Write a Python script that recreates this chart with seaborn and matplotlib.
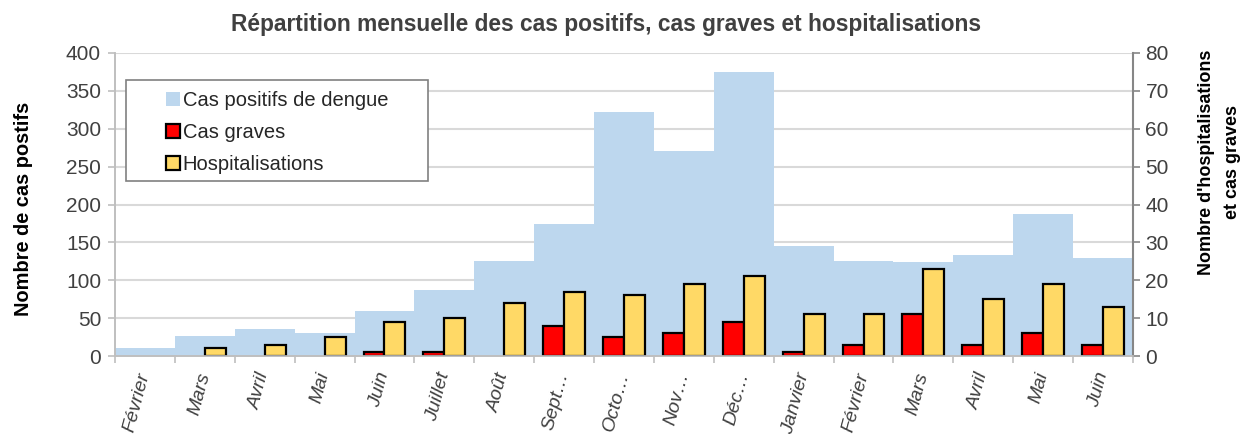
import matplotlib
matplotlib.use("Agg")
import matplotlib.pyplot as plt
from matplotlib.patches import Patch, Rectangle
import seaborn as sns
import pandas as pd

# Data
mois_id = ["2019-02", "2019-03", "2019-04", "2019-05", "2019-06", "2019-07", "2019-08",
           "2019-09", "2019-10", "2019-11", "2019-12", "2020-01", "2020-02", "2020-03",
           "2020-04", "2020-05", "2020-06"]
mois_labels = ["Février", "Mars", "Avril", "Mai", "Juin", "Juillet", "Août", "Sept…",
               "Octo…", "Nov…", "Déc…", "Janvier", "Février", "Mars", "Avril", "Mai", "Juin"]
cas_positifs = [10, 26, 36, 30, 59, 87, 126, 174, 322, 270, 375, 145, 126, 124, 133, 188, 130]
cas_graves = [0, 0, 0, 0, 1, 1, 0, 8, 5, 6, 9, 1, 3, 11, 3, 6, 3]
hospitalisations = [0, 2, 3, 5, 9, 10, 14, 17, 16, 19, 21, 11, 11, 23, 15, 19, 13]

BLUE = "#BDD7EE"
RED = "#FF0000"
YELLOW = "#FFD966"
TXT = "#404040"

df = pd.DataFrame({"mois": mois_id, "positifs": cas_positifs})
long = pd.DataFrame({
    "mois": mois_id * 2,
    "serie": ["Cas graves"] * len(mois_id) + ["Hospitalisations"] * len(mois_id),
    "valeur": cas_graves + hospitalisations,
})

sns.set_theme(style="white")
plt.rcParams["font.family"] = ["Liberation Sans", "DejaVu Sans"]

fig = plt.figure(figsize=(12.46, 4.34), dpi=100)
ax = fig.add_axes([0.0923, 0.1797, 0.817, 0.6982])
ax2 = ax.twinx()

sns.barplot(data=df, x="mois", y="positifs", order=mois_id, color=BLUE, saturation=1,
            width=1.0, linewidth=0, ax=ax)
sns.barplot(data=long, x="mois", y="valeur", hue="serie", order=mois_id,
            hue_order=["Cas graves", "Hospitalisations"],
            palette={"Cas graves": RED, "Hospitalisations": YELLOW}, saturation=1,
            width=0.7, edgecolor="black", linewidth=1.6, legend=False, ax=ax2)
# no outline for empty bars
for p in ax2.patches:
    if p.get_height() == 0:
        p.set_linewidth(0)

n = len(mois_id)
for a in (ax, ax2):
    a.set_xlim(-0.5, n - 0.5)
ax.set_ylim(0, 400)
ax2.set_ylim(0, 80)
ax.set_yticks(range(0, 401, 50))
ax2.set_yticks(range(0, 81, 10))

ax.set_axisbelow(True)
ax.yaxis.grid(True, color="#D9D9D9", linewidth=1.5)
ax2.grid(False)

for a in (ax, ax2):
    for s in a.spines.values():
        s.set_color("#BFBFBF")
        s.set_linewidth(1.2)
    a.spines["top"].set_visible(False)
ax2.spines["right"].set_color("#868686")
ax2.spines["right"].set_linewidth(1.5)

ax.tick_params(axis="y", colors="#BFBFBF", labelcolor=TXT, labelsize=15, length=5, width=1.2,
               direction="out", left=True, pad=5)
ax2.tick_params(axis="y", colors="#868686", labelcolor=TXT, labelsize=15, length=5, width=1.2,
                direction="out", right=True, pad=4)

# category labels at centres, tick marks at boundaries
ax.set_xticks(range(n))
ax.set_xticklabels(mois_labels, rotation=75, ha="right", va="center", rotation_mode="anchor",
                   fontsize=14, style="italic", color=TXT)
ax.tick_params(axis="x", length=0, pad=12)
ax.set_xticks([i - 0.5 for i in range(n + 1)], minor=True)
ax.tick_params(axis="x", which="minor", bottom=True, length=5, width=1.2, color="#BFBFBF")
ax2.tick_params(axis="x", bottom=False, labelbottom=False)
ax.set_xlabel("")
ax2.set_xlabel("")

ax.set_ylabel("Nombre de cas postifs", fontsize=14.4, fontweight="bold", color="black")
ax.yaxis.set_label_coords(-0.081, 0.485)
ax2.set_ylabel("Nombre d'hospitalisations\net cas graves", fontsize=13, fontweight="bold",
               color="black", linespacing=1.65, ha="center", va="top")
ax2.yaxis.set_label_coords(1.064, 0.64)

fig.suptitle("Répartition mensuelle des cas positifs, cas graves et hospitalisations",
             x=0.486, y=0.97, fontsize=16.4, fontweight="bold", color=TXT)

# legend: white box with grey frame
box = Rectangle((0.011, 0.578), 0.296, 0.333, transform=ax2.transAxes, facecolor="white",
                edgecolor="#808080", linewidth=1.2, zorder=5)
ax2.add_patch(box)
handles = [Patch(facecolor=BLUE, edgecolor="none"),
           Patch(facecolor=RED, edgecolor="black", linewidth=1.6),
           Patch(facecolor=YELLOW, edgecolor="black", linewidth=1.6)]
leg = ax2.legend(handles, ["Cas positifs de dengue", "Cas graves", "Hospitalisations"],
                 loc="upper left", bbox_to_anchor=(0.036, 0.922), frameon=False,
                 fontsize=14.5, handlelength=0.7, handleheight=0.7, handletextpad=0.15,
                 labelspacing=0.65, borderpad=0.2)
leg.set_zorder(6)

fig.savefig("out.png", dpi=100)
